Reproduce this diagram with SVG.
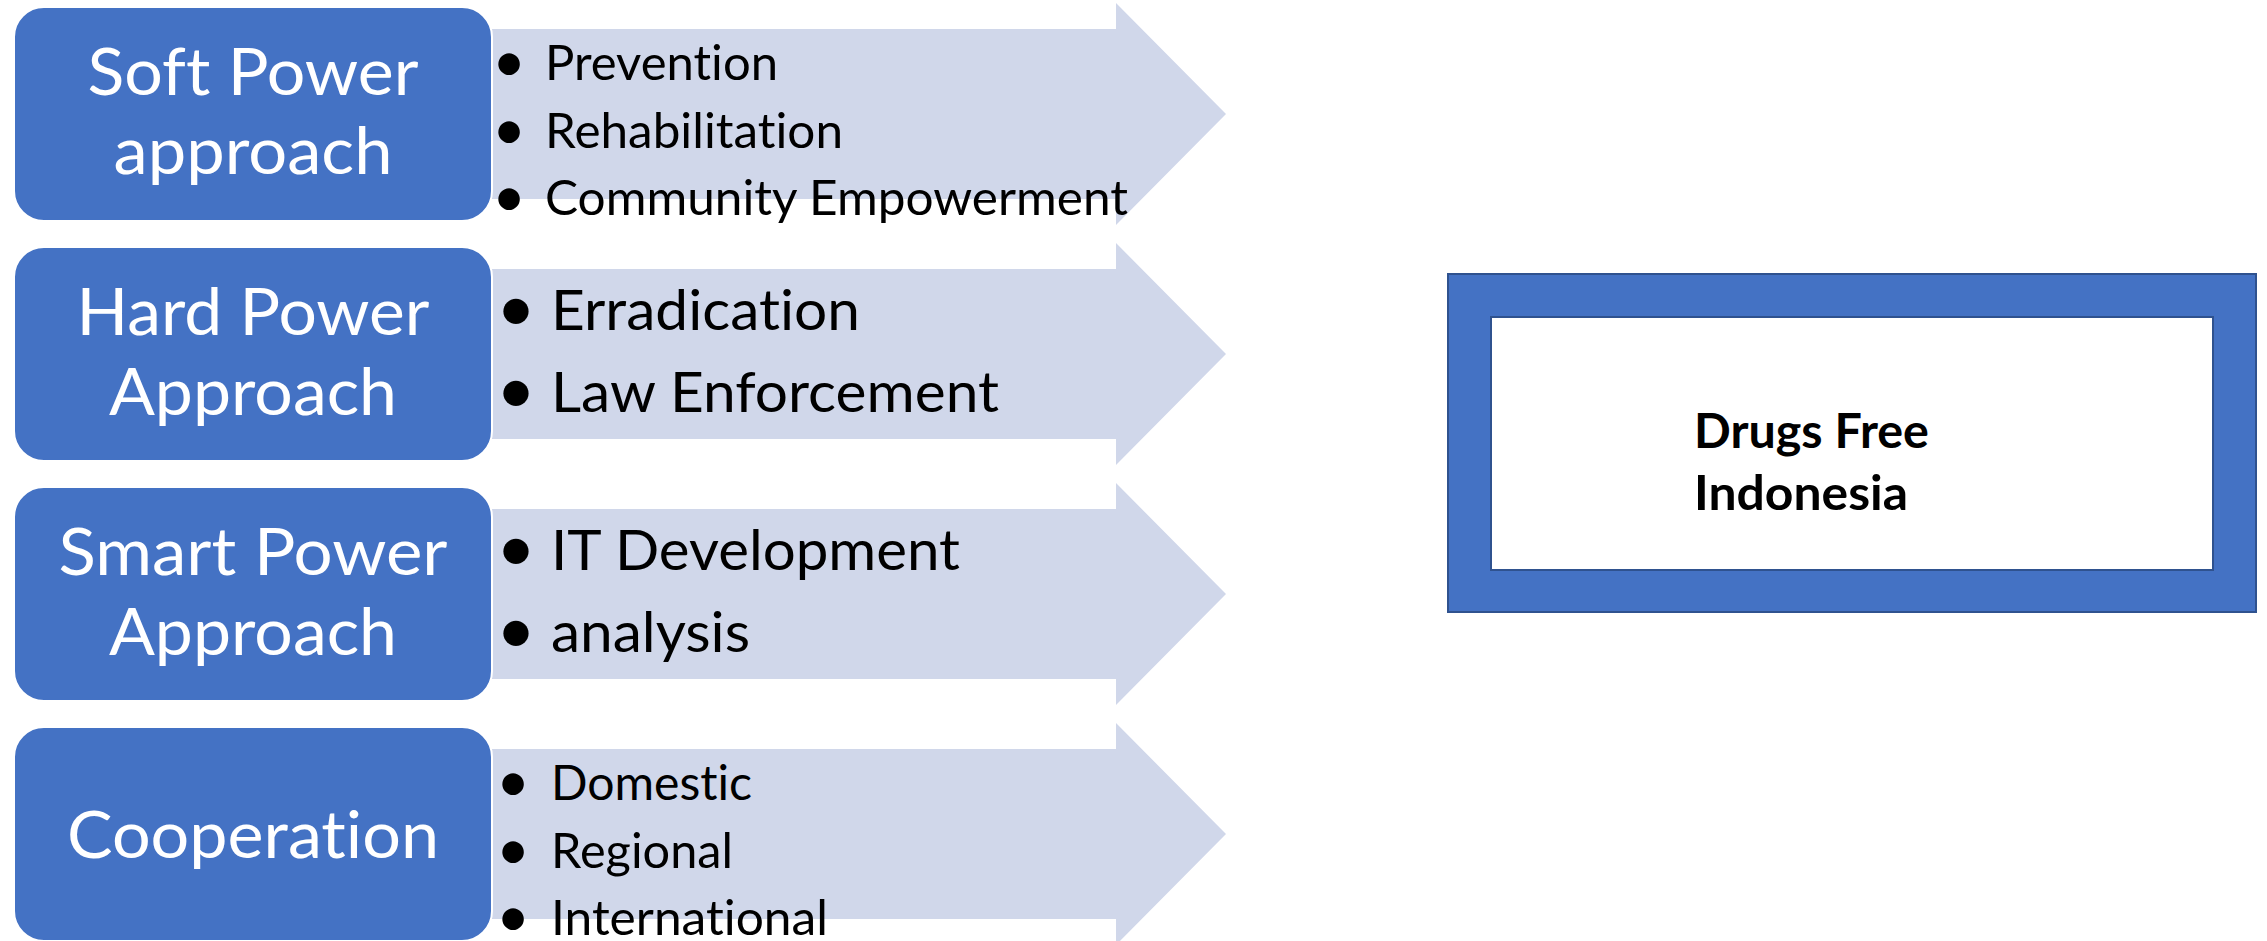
<svg xmlns="http://www.w3.org/2000/svg" width="2267" height="941" viewBox="0 0 2267 941">
<style>
text{font-variant-ligatures:none;font-feature-settings:"liga" 0}
.arrow{fill:#D0D7EA;stroke:none}
.box{fill:#4472C4;stroke:#FFFFFF;stroke-width:2}
.bt{font-family:Lato,"Open Sans",sans-serif;font-size:66px;fill:#FFFFFF;text-anchor:middle}
.s{font-family:Lato,"Open Sans",sans-serif;font-size:47.5px;fill:#000000}
.l{font-family:Lato,"Open Sans",sans-serif;font-size:56.5px;fill:#000000}
.bs{font-family:Lato,"Open Sans",sans-serif;font-size:58px;fill:#000000;text-anchor:middle}
.bl{font-family:Lato,"Open Sans",sans-serif;font-size:68px;fill:#000000;text-anchor:middle}
.d{font-family:Lato,"Open Sans",sans-serif;font-size:47.5px;font-weight:bold;fill:#000000}
</style>
<rect width="2267" height="941" fill="#FFFFFF"/>
<g id="connectors">
<path class="arrow" d="M480 29 H1116 V3 L1226 114 L1116 225 V199 H480 Z"/>
<path class="arrow" d="M480 269 H1116 V243 L1226 354 L1116 465 V439 H480 Z"/>
<path class="arrow" d="M480 509 H1116 V483 L1226 594 L1116 705 V679 H480 Z"/>
<path class="arrow" d="M480 749 H1116 V723 L1226 834 L1116 945 V919 H480 Z"/>
</g>
<g id="soft">
<rect class="box" x="14" y="7" width="478" height="214" rx="30"/>
<text class="bt" x="253" y="95" textLength="331" lengthAdjust="spacingAndGlyphs">Soft Power</text>
<text class="bt" x="253" y="174" textLength="279" lengthAdjust="spacingAndGlyphs">approach</text>
<text class="bs" x="509" y="82">•</text>
<text class="s" x="545" y="80" textLength="233" lengthAdjust="spacingAndGlyphs">Prevention</text>
<text class="bs" x="509" y="150">•</text>
<text class="s" x="545" y="148" textLength="298" lengthAdjust="spacingAndGlyphs">Rehabilitation</text>
<text class="bs" x="509" y="217">•</text>
<text class="s" x="545" y="215" textLength="583" lengthAdjust="spacingAndGlyphs">Community Empowerment</text>
</g>
<g id="hard">
<rect class="box" x="14" y="247" width="478" height="214" rx="30"/>
<text class="bt" x="253" y="335" textLength="353" lengthAdjust="spacingAndGlyphs">Hard Power</text>
<text class="bt" x="253" y="415" textLength="288" lengthAdjust="spacingAndGlyphs">Approach</text>
<text class="bl" x="516" y="332">•</text>
<text class="l" x="551" y="330" textLength="309" lengthAdjust="spacingAndGlyphs">Erradication</text>
<text class="bl" x="516" y="414">•</text>
<text class="l" x="551" y="412" textLength="448" lengthAdjust="spacingAndGlyphs">Law Enforcement</text>
</g>
<g id="smart">
<rect class="box" x="14" y="487" width="478" height="214" rx="30"/>
<text class="bt" x="253" y="575" textLength="389" lengthAdjust="spacingAndGlyphs">Smart Power</text>
<text class="bt" x="253" y="655" textLength="288" lengthAdjust="spacingAndGlyphs">Approach</text>
<text class="bl" x="516" y="572">•</text>
<text class="l" x="551" y="570" textLength="409" lengthAdjust="spacingAndGlyphs">IT Development</text>
<text class="bl" x="516" y="654">•</text>
<text class="l" x="551" y="652" textLength="199" lengthAdjust="spacingAndGlyphs">analysis</text>
</g>
<g id="coop">
<rect class="box" x="14" y="727" width="478" height="214" rx="30"/>
<text class="bt" x="253" y="858" textLength="372" lengthAdjust="spacingAndGlyphs">Cooperation</text>
<text class="bs" x="513" y="802">•</text>
<text class="s" x="551" y="800" textLength="201" lengthAdjust="spacingAndGlyphs">Domestic</text>
<text class="bs" x="513" y="870">•</text>
<text class="s" x="551" y="868" textLength="182" lengthAdjust="spacingAndGlyphs">Regional</text>
<text class="bs" x="513" y="937">•</text>
<text class="s" x="551" y="935" textLength="277" lengthAdjust="spacingAndGlyphs">International</text>
</g>
<g id="goal">
<rect x="1448" y="274" width="808" height="338" fill="#4472C4" stroke="#2F528F" stroke-width="2"/>
<rect x="1491" y="317" width="722" height="253" fill="#FFFFFF" stroke="#2F528F" stroke-width="2"/>
<text class="d" x="1694" y="448" textLength="235" lengthAdjust="spacingAndGlyphs">Drugs Free</text>
<text class="d" x="1694" y="510" textLength="214" lengthAdjust="spacingAndGlyphs">Indonesia</text>
</g>
</svg>
